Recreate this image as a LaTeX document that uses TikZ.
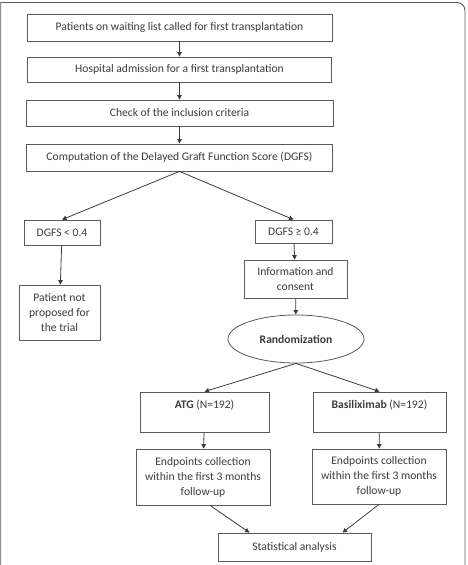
\documentclass[tikz,border=0pt]{standalone}
\usepackage{fontspec}
\setmainfont{Carlito}
\usetikzlibrary{arrows.meta,shapes.geometric,calc}
\definecolor{boxline}{HTML}{5A5A5A}
\definecolor{boxtext}{HTML}{3C3C3C}
\begin{document}
\begin{tikzpicture}[x=1pt, y=-1pt,
    stepbox/.style={draw=boxline, line width=0.8pt, inner sep=0pt, align=center,
        text=boxtext, font=\fontsize{11.6}{15}\selectfont},
    flow/.style={draw=boxtext, line width=0.8pt, -{Triangle[length=4.5pt,width=4.5pt]}}]
    \useasboundingbox (0,0) rectangle (467,565);
    \draw[boxline, line width=0.9pt] (0.8,566) -- (0.8,2.5) -- (457,2.5)
        arc[start angle=90, end angle=0, radius=8pt] -- (465,566);

    \node[stepbox, minimum width=305, minimum height=27] (call) at (179.5,27.5) {Patients on waiting list called for first transplantation};
    \node[stepbox, minimum width=304, minimum height=25] (admit) at (179.5,69.5) {Hospital admission for a first transplantation};
    \node[stepbox, minimum width=307, minimum height=26] (check) at (179.5,113) {Check of the inclusion criteria};
    \node[stepbox, minimum width=306, minimum height=27] (score) at (179.5,157.5) {Computation of the Delayed Graft Function Score (DGFS)};

    \node[stepbox, minimum width=76, minimum height=25] (low) at (62,232.5) {DGFS < 0.4};
    \node[stepbox, minimum width=77, minimum height=23] (high) at (293.5,231.5) {DGFS ≥ 0.4};
    \node[stepbox, minimum width=81, minimum height=55] (notprop) at (59.5,312.5) {Patient not\\ proposed for\\ the trial};
    \node[stepbox, minimum width=103, minimum height=38] (info) at (295.5,279) {Information and\\ consent};
    \node[stepbox, ellipse, minimum width=136, minimum height=48] (rand) at (296,339) {\textbf{Randomization}};

    \node[stepbox, minimum width=129, minimum height=40] (atg) at (204.5,412) {\textbf{ATG} (N=192)\\ ~};
    \node[stepbox, minimum width=133, minimum height=40] (basil) at (379.5,412) {\textbf{Basiliximab} (N=192)\\ ~};
    \node[stepbox, minimum width=134, minimum height=56] (endl) at (203,477) {Endpoints collection\\ within the first 3 months\\ follow-up};
    \node[stepbox, minimum width=134, minimum height=55] (endr) at (379,476.5) {Endpoints collection\\ within the first 3 months\\ follow-up};
    \node[stepbox, minimum width=153, minimum height=28] (stat) at (294.5,547) {Statistical analysis};

    \draw[flow] (call) -- (admit);
    \draw[flow] (admit) -- (check);
    \draw[flow] (check) -- (score);
    \draw[flow] (score.south) -- (low.north);
    \draw[flow] (score.south) -- (high.north);
    \draw[flow] (low) -- (notprop);
    \draw[flow] (high) -- (info);
    \draw[flow] (info) -- (rand);
    \draw[flow] (rand.south) -- (atg.north);
    \draw[flow] (rand.south) -- (basil.north);
    \draw[flow] (atg) -- (endl);
    \draw[flow] (basil) -- (endr);
    \draw[flow] ($(endl.south)+(7,0)$) -- ($(stat.north)+(-45,0)$);
    \draw[flow] (endr.south) -- ($(stat.north)+(48,0)$);
\end{tikzpicture}
\end{document}
